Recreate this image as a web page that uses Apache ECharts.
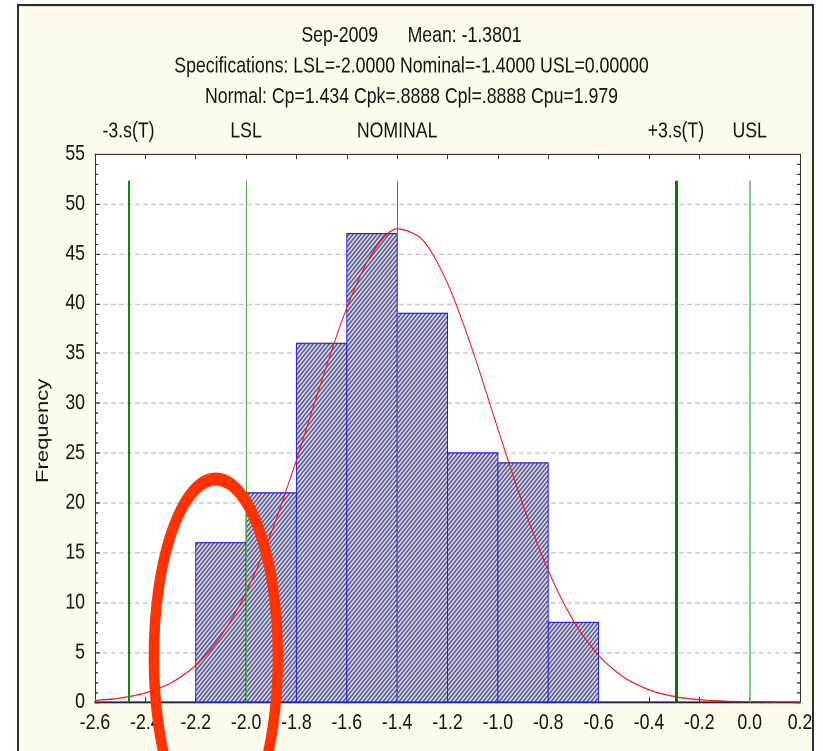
<!DOCTYPE html>
<html>
<head>
<meta charset="utf-8">
<script src="https://cdn.jsdelivr.net/npm/echarts@6/dist/echarts.min.js"></script>
<style>
  html, body { margin: 0; padding: 0; background: #ffffff; width: 823px; height: 751px; }
  #wrap { position: relative; width: 823px; height: 751px; overflow: hidden; }
  /* The plot is laid out at 823x601 and stretched vertically to fill 823x751 */
  #chart { position: absolute; left: 0; top: 0; width: 823px; height: 601px; transform-origin: 0 0; transform: scale(1, 1.2496); }
</style>
</head>
<body>
<div id="wrap"><div id="chart"></div></div>
<script>
// Histogram bins (lower edges, width 0.2) and their counts
const binStarts = [-2.2, -2.0, -1.8, -1.6, -1.4, -1.2, -1.0, -0.8];
const binWidth = 0.2;
const frequencies = [16, 21, 36, 47, 39, 25, 24, 8];

// Fitted normal curve, sampled every 0.1
const curveX = [-2.6, -2.5, -2.4, -2.3, -2.2, -2.1, -2.0, -1.9, -1.8, -1.7, -1.6, -1.5, -1.4, -1.3,
                -1.2, -1.1, -1.0, -0.9, -0.8, -0.7, -0.6, -0.5, -0.4, -0.3, -0.2, -0.1, 0.0, 0.1, 0.2];
const curveY = [0.16, 0.40, 0.91, 1.90, 3.68, 6.61, 11.01, 17.0, 24.30, 32.21, 39.56, 45.02, 47.48, 46.40,
                42.03, 35.27, 27.43, 19.77, 13.21, 8.17, 4.69, 2.49, 1.23, 0.56, 0.24, 0.09, 0.03, 0.01, 0.004];

// Specification / control limit markers
const specNames = ['-3.s(T)', 'LSL', 'NOMINAL', '+3.s(T)', 'USL'];
const specValues = [-2.467, -2.0, -1.4, -0.293, 0.0];
const specLineTop = 52.3;

// Axis ranges
const xMin = -2.6, xMax = 0.2, xStep = 0.2;
const yMin = 0, yMax = 55, yStep = 5;

const titleLines = [
  'Sep-2009      Mean: -1.3801',
  'Specifications: LSL=-2.0000 Nominal=-1.4000 USL=0.00000',
  'Normal: Cp=1.434 Cpk=.8888 Cpl=.8888 Cpu=1.979'
];

const FONT = '"Liberation Sans", Arial, sans-serif';
const FONT_SIZE = 17.7;
const TEXT_COLOR = '#141414';

// Diagonal hatch tile for the bars
function makeHatch() {
  const c = document.createElement('canvas');
  c.width = 4; c.height = 4;
  const g = c.getContext('2d');
  g.fillStyle = '#ededfb';
  g.fillRect(0, 0, 4, 4);
  g.fillStyle = '#4a4a80';
  for (let y = 0; y < 4; y++) {
    for (let x = 0; x < 4; x++) {
      const k = (x + y) % 4;
      if (k === 3 || k === 0) g.fillRect(x, y, 1, 1);
    }
  }
  return c;
}
const hatch = makeHatch();

const specStyles = [
  { color: '#0a8a0a', width: 2 },
  { color: '#4caf50', width: 1 },
  { color: '#2e9a2e', width: 1 },
  { color: '#008000', width: 3 },
  { color: '#5cbf5c', width: 1.5 }
];

const chart = echarts.init(document.getElementById('chart'), null, { renderer: 'canvas', devicePixelRatio: 2 });

const tickLabelStyle = { fontFamily: FONT, fontSize: FONT_SIZE, color: TEXT_COLOR };

const option = {
  animation: false,
  backgroundColor: '#ffffff',
  title: {
    text: titleLines.join('\n'),
    left: 'center',
    top: 11.5,
    textStyle: { fontFamily: FONT, fontSize: FONT_SIZE, fontWeight: 'normal', color: TEXT_COLOR, lineHeight: 24.4 }
  },
  grid: { left: 95, right: 23, top: 123.2, bottom: 39.2, show: true, backgroundColor: '#ffffff', borderWidth: 0 },
  xAxis: [
    {
      type: 'value', position: 'bottom', min: xMin, max: xMax, interval: xStep,
      axisLine: { show: true, onZero: false, lineStyle: { color: '#23234f', width: 1.5 } },
      axisTick: { show: true, inside: true, length: 4, lineStyle: { color: '#333' } },
      axisLabel: {
        show: true, margin: 8, showMinLabel: true, showMaxLabel: true, ...tickLabelStyle,
        formatter: v => (Math.abs(v) < 1e-9 ? 0 : v).toFixed(1)
      },
      splitLine: { show: false }
    },
    {
      type: 'value', position: 'top', min: xMin, max: xMax, interval: xStep,
      axisLine: { show: true, onZero: false, lineStyle: { color: '#333', width: 1 } },
      axisTick: { show: true, inside: true, length: 4, lineStyle: { color: '#333' } },
      axisLabel: { show: false },
      splitLine: { show: false }
    }
  ],
  yAxis: [
    {
      type: 'value', position: 'left', min: yMin, max: yMax, interval: yStep,
      axisLine: { show: true, onZero: false, lineStyle: { color: '#333', width: 1 } },
      axisTick: { show: true, inside: true, length: 5, lineStyle: { color: '#333' } },
      minorTick: { show: true, splitNumber: 5, length: 3, lineStyle: { color: '#333' } },
      axisLabel: { show: true, margin: 10, ...tickLabelStyle },
      splitLine: { show: true, lineStyle: { color: '#c8c8c8', width: 1, type: [5, 3] } }
    },
    {
      type: 'value', position: 'right', min: yMin, max: yMax, interval: yStep,
      axisLine: { show: true, onZero: false, lineStyle: { color: '#333', width: 1 } },
      axisTick: { show: true, inside: true, length: 5, lineStyle: { color: '#333' } },
      minorTick: { show: true, splitNumber: 5, length: 3, lineStyle: { color: '#333' } },
      axisLabel: { show: false },
      splitLine: { show: false }
    }
  ],
  series: [
    {
      name: 'Frequency',
      type: 'custom',
      xAxisIndex: 0, yAxisIndex: 0,
      z: 2,
      data: binStarts.map((lo, i) => [lo, lo + binWidth, frequencies[i]]),
      encode: { x: [0, 1], y: 2 },
      renderItem: function (params, api) {
        const p0 = api.coord([api.value(0), api.value(2)]);
        const p1 = api.coord([api.value(1), 0]);
        return {
          type: 'rect',
          shape: { x: p0[0], y: p0[1], width: p1[0] - p0[0], height: p1[1] - p0[1] },
          style: { fill: { image: hatch, repeat: 'repeat' }, stroke: '#2323e6', lineWidth: 1 }
        };
      }
    },
    {
      name: 'Normal',
      type: 'line',
      xAxisIndex: 0, yAxisIndex: 0,
      z: 4,
      smooth: 0.3,
      showSymbol: false,
      symbol: 'none',
      data: curveX.map((x, i) => [x, curveY[i]]),
      lineStyle: { color: '#ff1010', width: 1 },
      markLine: {
        symbol: 'none',
        silent: true,
        data: specValues.map((v, i) => [
          {
            name: specNames[i],
            coord: [v, 0],
            lineStyle: { color: specStyles[i].color, width: specStyles[i].width, type: 'solid' },
            label: {
              show: true, position: 'end', distance: 30.5, formatter: specNames[i],
              fontFamily: FONT, fontSize: FONT_SIZE, color: TEXT_COLOR
            }
          },
          { coord: [v, specLineTop] }
        ])
      }
    }
  ],
  graphic: [
    {
      type: 'rect', z: -10, silent: true,
      shape: { x: 18, y: 4, width: 795, height: 700 },
      style: { fill: '#fefaee', stroke: '#2e2e2e', lineWidth: 2 }
    },
    {
      type: 'text', z: 10, silent: true,
      x: 43, y: 344.8, rotation: Math.PI / 2,
      style: {
        text: 'Frequency', fontFamily: FONT, fontSize: FONT_SIZE,
        fill: TEXT_COLOR, textAlign: 'center', textVerticalAlign: 'middle'
      }
    }
  ]
};

chart.setOption(option);

// Hand-drawn emphasis ring around the lowest bins
const ringCenter = chart.convertToPixel({ xAxisIndex: 0, yAxisIndex: 0 }, [-2.12, 4.5]);
chart.setOption({
  graphic: [
    {}, {},
    {
      type: 'ellipse', z: 100, silent: true,
      shape: { cx: ringCenter[0], cy: ringCenter[1], rx: 62, ry: 142.5 },
      style: { fill: 'none', stroke: '#ff3300', lineWidth: 10.5 }
    }
  ]
});
</script>
</body>
</html>
